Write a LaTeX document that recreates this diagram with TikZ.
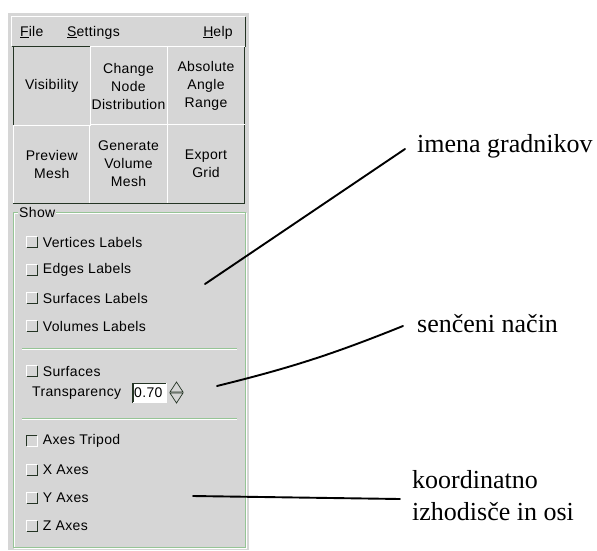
\documentclass[tikz,border=0pt]{standalone}
\usepackage{fontspec}
\setmainfont{Liberation Serif}
\newfontfamily\guifont[LetterSpace=2.5]{Liberation Sans}
\usepackage{xcolor}
\definecolor{guiPanel}{RGB}{214,214,214}
\definecolor{guiEtch} {RGB}{150,196,150}
\definecolor{guiShade}{RGB}{ 36, 52, 36}
\definecolor{guiLight}{RGB}{255,255,255}
\definecolor{guiInk}  {RGB}{  0,  0,  0}
\usepackage{tikz}
\usetikzlibrary{positioning}

\begin{document}
\begin{tikzpicture}[
  x=1pt, y=-1pt,
  gui/.style   ={font=\guifont\fontsize{14}{18}\selectfont, text=guiInk,
                 inner sep=0pt},
  btn/.style   ={gui, fill=guiPanel, align=center,
                 minimum width=77pt, minimum height=78pt},
  cbox/.style  ={fill=guiPanel, inner sep=0pt, minimum size=10pt},
  chk/.style   ={gui, anchor=west},
  entry/.style ={gui, fill=guiLight, anchor=west, text width=31pt,
                 minimum height=19pt, inner xsep=1pt},
  raised/.style={line width=1.1pt},
  note/.style  ={font=\fontsize{26}{32}\selectfont, text=guiInk,
                 inner sep=0pt, anchor=base west},
  callout/.style={line width=1.9pt, line cap=round, color=guiInk},
]
  \useasboundingbox (0,0) rectangle (597,550);

  % Window background
  \fill[guiPanel] (8,13) rectangle (249,550);

  % Menu bar
  \node[fill=guiPanel, minimum width=233pt, minimum height=29pt,
        inner sep=0pt] (menu) at (128.5,31.5) {};
  \draw[raised, guiLight] (menu.south west) |- (menu.north east);
  \draw[raised, guiShade] (menu.south west) -| (menu.north east);
  \node[gui, anchor=base west] (mFile) at (20,36) {\underline{F}ile};
  \node[gui, anchor=base west] (mSet)  at (67,36) {\underline{S}ettings};
  \node[gui, anchor=base east] (mHelp) at (233,36) {\underline{H}elp};

  % Button grid, two rows of three
  \foreach \cx/\cy/\txt/\nm in {
      128.5/86/{Change\\Node\\Distribution}/bNode,
      206/86/{Absolute\\Angle\\Range}/bAngle,
      51.75/164/{Preview\\Mesh}/bPrev,
      128.5/164/{Generate\\Volume\\Mesh}/bGen,
      206/164/{Export\\Grid}/bExp} {
    \node[btn] (\nm) at (\cx,\cy) {\txt};
    \draw[raised, guiLight] (\nm.south west) |- (\nm.north east);
    \draw[raised, guiShade] (\nm.south west) -| (\nm.north east);
  }
  % the pressed one
  \node[btn] (bVis) at (51.75,86) {Visibility};
  \draw[raised, guiShade] (bVis.south west) |- (bVis.north east);
  \draw[raised, guiLight] (bVis.south west) -| (bVis.north east);

  % Etched frame "Show"
  \draw[guiLight, line width=0.8pt] (14,213) rectangle (246,548);
  \draw[guiEtch,  line width=0.8pt] (13,212) rectangle (245,547);
  \node[gui, fill=guiPanel, inner xsep=1pt, anchor=west] (show) at (18,212) {Show};

  % Separators
  \foreach \sy in {348, 418} {
    \draw[guiEtch,  line width=0.8pt] (22,\sy) -- (237,\sy);
    \draw[guiLight, line width=0.8pt] (22,\sy+1) -- (237,\sy+1);
  }

  % Check boxes with their labels
  \foreach \cy/\txt/\nm in {
      242/Vertices Labels/cVert,
      270/Edges Labels/cEdge,
      298/Surfaces Labels/cSurfL,
      326/Volumes Labels/cVol,
      371/Surfaces/cSurf,
      470/X Axes/cX,
      498/Y Axes/cY,
      526/Z Axes/cZ} {
    \node[cbox] (\nm) at (32,\cy) {};
    \draw[guiLight, line width=0.9pt] (\nm.south west) |- (\nm.north east);
    \draw[guiShade, line width=0.9pt] (\nm.south west) -| (\nm.north east);
    \node[chk, right=5.5pt of \nm] (\nm-t) {\txt};
  }
  % the ticked one
  \node[cbox] (cTri) at (32,441) {};
  \draw[guiShade, line width=1.2pt] (cTri.south west) |- (cTri.north east);
  \draw[guiLight, line width=0.9pt] (cTri.south west) -| (cTri.north east);
  \node[chk, right=5.5pt of cTri] (cTri-t) {Axes Tripod};

  % Transparency entry and spinner
  \node[chk] (trans) at (32,393) {Transparency};
  \node[entry] (tval) at (133,393) {0.70};
  \draw[guiShade, line width=1.1pt] (tval.south west) |- (tval.north east);
  \draw[guiLight, line width=0.8pt] (tval.south west) -| (tval.north east);
  \draw[guiShade, line width=0.7pt, fill=guiPanel]
    (170,392) -- (176.5,382) -- (183,392) -- cycle;
  \draw[guiShade, line width=0.7pt, fill=guiPanel]
    (170,393) -- (176.5,403) -- (183,393) -- cycle;

  % Callout labels
  \node[note] (imena) at (417,152) {imena gradnikov};
  \node[note] (senc)  at (417,332) {senčeni način};
  \node[note] (koord) at (412,488) {koordinatno};
  \node[note] (izhod) at (412,520) {izhodisče in osi};

  % Callout lines, from a point in the panel to the label
  \coordinate (pImena) at (205,284);
  \coordinate (pSenc)  at (217,386);
  \coordinate (pKoord) at (193,496);
  \draw[callout] (pImena) -- ([xshift=-12pt, yshift=3pt]imena.base west);
  \draw[callout] (pSenc) to[bend right=4] ([xshift=-14pt, yshift=6pt]senc.base west);
  \draw[callout] (pKoord) -- ([xshift=-12pt, yshift=-11pt]koord.base west);
\end{tikzpicture}
\end{document}
